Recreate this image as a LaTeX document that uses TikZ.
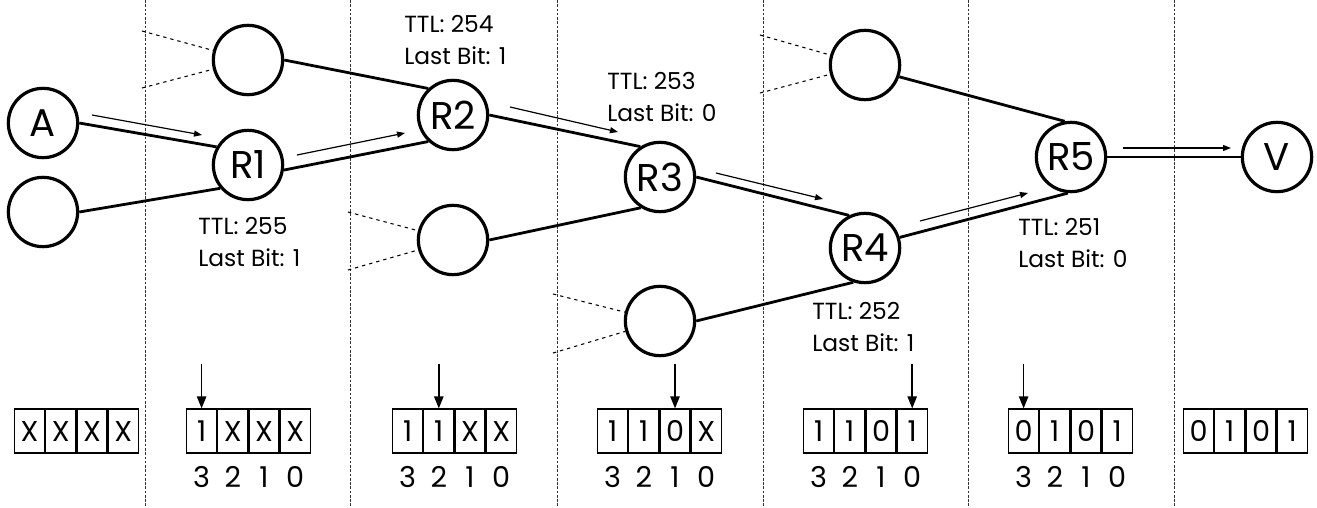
\documentclass[tikz,border=0pt]{standalone}
\usepackage{fontspec}
\setmainfont{Poppins}
\usetikzlibrary{arrows.meta,positioning}

\newcommand{\bitrow}[6]{%
	\node[bit,anchor=west] (#1-3) at (#2,431) {#3};
	\node[bit,right=0pt of #1-3] (#1-2) {#4};
	\node[bit,right=0pt of #1-2] (#1-1) {#5};
	\node[bit,right=0pt of #1-1] (#1-0) {#6};
}
\newcommand{\bitnum}[1]{%
	\node[idx] (#1-3n) at ([yshift=-34.5pt]#1-3.center) {3};
	\node[idx] (#1-2n) at ([yshift=-34.5pt]#1-2.center) {2};
	\node[idx] (#1-1n) at ([yshift=-34.5pt]#1-1.center) {1};
	\node[idx] (#1-0n) at ([yshift=-34.5pt]#1-0.center) {0};
}

\begin{document}
\begin{tikzpicture}[x=0.75pt, y=-0.75pt,
		router/.style={circle, draw, line width=2.4pt, minimum size=52pt, inner sep=0pt,
			font=\fontsize{29}{29}\selectfont},
		link/.style={line width=2.1pt},
		stub/.style={line width=0.8pt, dash pattern=on 2.5pt off 3pt},
		sep/.style={line width=0.6pt, dash pattern=on 2pt off 1.2pt, gray!40!black},
		flow/.style={line width=0.9pt, -{Triangle[length=6pt,width=4.5pt]}},
		ptr/.style={line width=1.1pt, -{Triangle[length=9pt,width=7pt]}},
		ttl/.style={anchor=west, align=left, inner sep=0pt,
			font=\fontsize{17.5}{23.5}\selectfont},
		bit/.style={draw, line width=0.9pt, minimum width=22.5pt, minimum height=33pt,
			inner sep=0pt, text height=15pt, text depth=0pt,
			font=\fontsize{21.5}{21.5}\selectfont},
		idx/.style={inner sep=0pt, text height=15pt, text depth=0pt,
			font=\fontsize{21.5}{21.5}\selectfont}]

	\useasboundingbox (0,0) rectangle (1317,507);

	\draw[sep] (145,0) -- (145,507) (350,0) -- (350,507) (557,0) -- (557,507)
		(763,0) -- (763,507) (968,0) -- (968,507) (1174,0) -- (1174,507);

	\node[router] (A) at (43,123) {A};
	\node[router] (e1) at (43,212) {};
	\node[router] (e2) at (248,60) {};
	\node[router] (R1) at (248,165) {R1};
	\node[router] (R2) at (453,115) {R2};
	\node[router] (e3) at (453,240) {};
	\node[router] (R3) at (660,177) {R3};
	\node[router] (e4) at (660,321) {};
	\node[router] (e5) at (865,65) {};
	\node[router] (R4) at (865,248) {R4};
	\node[router] (R5) at (1071,157) {R5};
	\node[router] (V) at (1277,157) {V};

	\coordinate (s1) at (142,31);
	\coordinate (s2) at (142,88);
	\coordinate (s3) at (348,212);
	\coordinate (s4) at (348,270);
	\coordinate (s5) at (553,294);
	\coordinate (s6) at (553,353);
	\coordinate (s7) at (760,35);
	\coordinate (s8) at (760,93);

	\draw[stub] (s1) -- (e2);
	\draw[stub] (s2) -- (e2);
	\draw[stub] (s3) -- (e3);
	\draw[stub] (s4) -- (e3);
	\draw[stub] (s5) -- (e4);
	\draw[stub] (s6) -- (e4);
	\draw[stub] (s7) -- (e5);
	\draw[stub] (s8) -- (e5);

	\draw[link] (A.east) -- (R1.150);
	\draw[link] (e1.east) -- (R1.220);
	\draw[link] (e2.east) -- (R2.133);
	\draw[link] (R1.-8) -- (R2.227);
	\draw[link] (R2.east) -- (R3.123);
	\draw[link] (e3.east) -- (R3.238);
	\draw[link] (R3.east) -- (R4.116);
	\draw[link] (e4.east) -- (R4.251);
	\draw[link] (e5.-19) -- (R5.100);
	\draw[link] (R4.17) -- (R5.265);
	\draw[link] (R5) -- (V);

	\draw[flow] ([shift={(49,-8)}]A.center) -- ([shift={(-46,-30)}]R1.center);
	\draw[flow] ([shift={(49,-10)}]R1.center) -- ([shift={(-48,18)}]R2.center);
	\draw[flow] ([shift={(57,-8)}]R2.center) -- ([shift={(-42,-45)}]R3.center);
	\draw[flow] ([shift={(56,-4)}]R3.center) -- ([shift={(-42,-49)}]R4.center);
	\draw[flow] ([shift={(55,-27)}]R4.center) -- ([shift={(-43,36)}]R5.center);
	\draw[flow] ([shift={(52,-9)}]R5.center) -- ([shift={(-46,-9)}]V.center);

	\node[ttl] (t1) at (198,242) {TTL: 255\\Last Bit: 1};
	\node[ttl] (t2) at (404,40) {TTL: 254\\Last Bit: 1};
	\node[ttl] (t3) at (607,97) {TTL: 253\\Last Bit: 0};
	\node[ttl] (t4) at (812,327) {TTL: 252\\Last Bit: 1};
	\node[ttl] (t5) at (1018,243) {TTL: 251\\Last Bit: 0};

	\bitrow{b0}{14}{X}{X}{X}{X}
	\bitrow{b1}{186}{1}{X}{X}{X}
	\bitrow{b2}{392}{1}{1}{X}{X}
	\bitrow{b3}{597}{1}{1}{0}{X}
	\bitrow{b4}{803}{1}{1}{0}{1}
	\bitrow{b5}{1008}{0}{1}{0}{1}
	\bitrow{b6}{1183}{0}{1}{0}{1}

	\bitnum{b1}
	\bitnum{b2}
	\bitnum{b3}
	\bitnum{b4}
	\bitnum{b5}

	\draw[ptr] ([yshift=33pt]b1-3.north) -- (b1-3.north);
	\draw[ptr] ([yshift=33pt]b2-2.north) -- (b2-2.north);
	\draw[ptr] ([yshift=33pt]b3-1.north) -- (b3-1.north);
	\draw[ptr] ([yshift=33pt]b4-0.north) -- (b4-0.north);
	\draw[ptr] ([yshift=33pt]b5-3.north) -- (b5-3.north);
\end{tikzpicture}
\end{document}
